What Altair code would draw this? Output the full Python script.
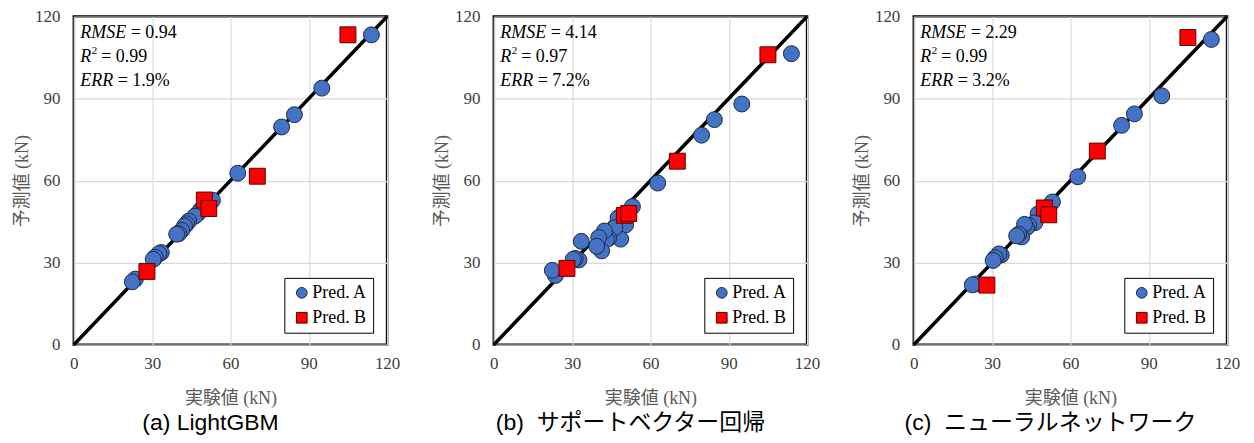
import altair as alt
import pandas as pd

# ---------------- data ----------------
captions = ["(a) LightGBM", "(b) \u00a0サポートベクター回帰", "(c) \u00a0ニューラルネットワーク"]
series_names = ["Pred. A", "Pred. B"]

# experimental values (x) for series A and B
exp_a = [114.0, 95.0, 84.5, 79.6, 62.8, 53.1, 50.5, 48.6, 47.6, 46.4, 44.0,
         43.2, 42.4, 41.3, 40.2, 39.4, 33.5, 32.6, 31.2, 30.4, 23.6, 22.4]
exp_b = [105.0, 70.3, 50.0, 51.7, 28.0]

# predicted values per model
lgbm_a = [113.3, 93.8, 84.1, 79.6, 62.7, 52.8, 50.0, 49.3, 48.0, 47.0, 45.2,
          44.2, 43.4, 41.8, 40.6, 40.4, 33.7, 33.3, 32.0, 31.2, 24.0, 23.0]
lgbm_b = [113.3, 61.6, 52.9, 49.8, 26.8]

svr_a = [106.4, 88.0, 82.3, 76.6, 59.1, 50.5, 43.8, 38.6, 46.4, 42.8, 38.9,
         38.5, 41.6, 34.3, 39.2, 36.0, 37.8, 31.0, 31.5, 31.2, 25.3, 27.2]
svr_b = [106.0, 67.1, 47.3, 48.0, 27.9]

nn_a = [111.6, 91.0, 84.4, 80.2, 61.4, 52.2, 49.5, 47.7, 47.8, 44.6, 43.6,
        42.8, 44.0, 39.4, 40.4, 39.8, 32.8, 33.2, 31.8, 30.8, 22.2, 21.9]
nn_b = [112.3, 70.8, 50.0, 47.5, 21.8]

rmse_vals = ["0.94", "4.14", "2.29"]
r2_vals = ["0.99", "0.97", "0.99"]
err_vals = ["1.9%", "7.2%", "3.2%"]

ticks = [0, 30, 60, 90, 120]
diag = [0, 120]

SERIF = "'Liberation Serif', serif"
SERIF_JP = "'Liberation Serif', 'Noto Sans CJK JP', serif"
SANS = "'Liberation Sans', 'Noto Sans CJK JP', sans-serif"

W, H = 314, 329


def text_layer(txt, x, y, size=18, style="normal"):
    return alt.Chart(pd.DataFrame({"t": [txt]})).mark_text(
        align="left", baseline="middle", font=SERIF, fontSize=size,
        fontStyle=style, color="black"
    ).encode(x=alt.value(x), y=alt.value(y), text="t:N")


def leg():
    return alt.Legend(title=None, labelExpr="datum.label + '   '")


def panel(pa, pb, rmse, r2, err, caption):
    df = pd.DataFrame({
        "exp": exp_a + exp_b,
        "pred": pa + pb,
        "series": [series_names[0]] * len(exp_a) + [series_names[1]] * len(exp_b),
    })
    xs = alt.Scale(domain=[0, 120], nice=False)
    ys = alt.Scale(domain=[0, 120], nice=False)
    xenc = alt.X("exp:Q", scale=xs, axis=alt.Axis(values=ticks, title="実験値 (kN)"))
    yenc = alt.Y("pred:Q", scale=ys, axis=alt.Axis(values=ticks, title="予測値 (kN)"))

    line = alt.Chart(pd.DataFrame({"exp": diag, "pred": diag})).mark_line(
        color="black", strokeWidth=3.5
    ).encode(x=xenc, y=yenc)

    pts = alt.Chart(df).mark_point(filled=True, opacity=1, strokeWidth=1, size=255).encode(
        x=xenc, y=yenc,
        color=alt.Color("series:N", scale=alt.Scale(domain=series_names, range=["#4472C4", "#FF0000"]),
                        legend=leg()),
        shape=alt.Shape("series:N", scale=alt.Scale(domain=series_names, range=["circle", "square"]),
                        legend=leg()),
        stroke=alt.Stroke("series:N", scale=alt.Scale(domain=series_names, range=["#1f2a44", "#5a0000"]),
                          legend=leg()),
    )

    x0 = 6.5
    texts = [
        text_layer("RMSE", x0, 17, style="italic"),
        text_layer("= " + rmse, x0 + 50.5, 17),
        text_layer("R", x0, 41, style="italic"),
        text_layer("2", x0 + 11.5, 35, size=11),
        text_layer("= " + r2, x0 + 21, 41),
        text_layer("ERR", x0, 65, style="italic"),
        text_layer("= " + err, x0 + 37.5, 65),
    ]

    return alt.layer(line, pts, *texts).properties(
        width=W, height=H,
        title=alt.TitleParams(caption, orient="bottom", font=SANS, fontSize=23,
                              fontWeight="normal", color="black", anchor="middle",
                              frame="group", dx=-20, offset=5),
    )


chart = alt.hconcat(
    panel(lgbm_a, lgbm_b, rmse_vals[0], r2_vals[0], err_vals[0], captions[0]),
    panel(svr_a, svr_b, rmse_vals[1], r2_vals[1], err_vals[1], captions[1]),
    panel(nn_a, nn_b, rmse_vals[2], r2_vals[2], err_vals[2], captions[2]),
    spacing=107, bounds="flush",
).resolve_scale(
    color="independent", shape="independent", stroke="independent"
).resolve_legend(
    color="independent", shape="independent", stroke="independent"
).properties(
    padding={"left": 4, "top": -3, "right": 5, "bottom": 0}
).configure_view(
    stroke="black", strokeWidth=2.5
).configure_axis(
    labelFont=SERIF, labelFontSize=17, labelColor="#404040", labelFlush=False,
    titleFont=SERIF_JP, titleFontSize=18, titleColor="#595959", titleFontWeight="normal",
    gridColor="#d9d9d9", gridWidth=1.2, domain=False, ticks=False, tickSize=0,
).configure_axisX(
    labelPadding=11, titlePadding=18
).configure_axisY(
    labelPadding=14, titlePadding=3
).configure_legend(
    orient="none", legendX=211, legendY=262, strokeColor="black", fillColor="white",
    padding=6, rowPadding=7, labelFont=SERIF, labelFontSize=18, labelColor="black",
    symbolOffset=2.5, labelOffset=1.5, cornerRadius=0, symbolSize=115, symbolStrokeWidth=1,
)

chart.save("out.html", embed_options={"renderer": "svg", "actions": False})
